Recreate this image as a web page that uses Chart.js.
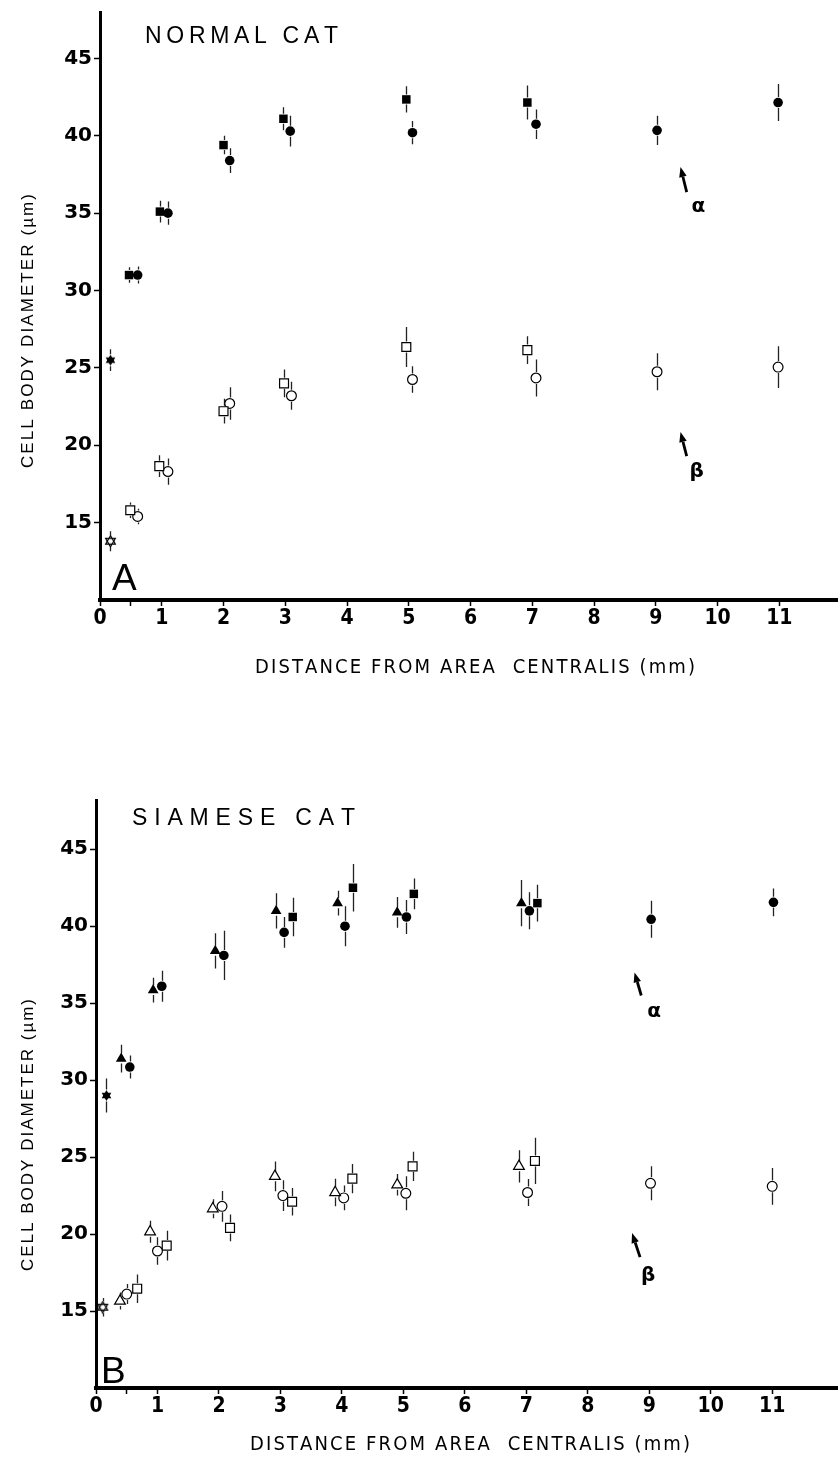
<!DOCTYPE html>
<html><head><meta charset="utf-8">
<script src="https://cdn.jsdelivr.net/npm/chart.js@4.4.1/dist/chart.umd.min.js"></script>
<style>
html,body{margin:0;padding:0;background:#fff;}
#wrap{position:relative;width:838px;height:1472px;overflow:hidden;background:#fff;}
canvas{position:absolute;left:0;}
</style></head><body>
<div id="wrap">
<canvas id="cTop" width="838" height="720" style="top:0"></canvas>
<canvas id="cBot" width="838" height="752" style="top:720px"></canvas>
</div>
<script>
// ---------------- DATA ----------------
const xTickValues = [0, 0.5, 1, 2, 3, 4, 5, 6, 7, 8, 9, 10, 11];
const yTickValues = [15, 20, 25, 30, 35, 40, 45];

// A: NORMAL CAT
const normAlphaSqX   = [0.47, 0.97, 2.0, 2.97, 4.96, 6.92];
const normAlphaSqY   = [31.0, 35.1, 39.4, 41.1, 42.35, 42.15];
const normAlphaSqE   = [0.5, 0.7, 0.6, 0.75, 0.85, 1.1];
const normAlphaCirX  = [0.61, 1.1, 2.1, 3.08, 5.06, 7.06, 9.02, 10.98];
const normAlphaCirY  = [31.0, 35.0, 38.4, 40.3, 40.2, 40.75, 40.35, 42.15];
const normAlphaCirE  = [0.55, 0.75, 0.8, 1.0, 0.75, 0.95, 0.95, 1.2];
const normAlphaAllX  = [0.17];
const normAlphaAllY  = [25.5];
const normAlphaAllE  = [0.7];
const normBetaSqX    = [0.49, 0.96, 2.0, 2.98, 4.96, 6.92];
const normBetaSqY    = [15.8, 18.65, 22.2, 24.0, 26.35, 26.15];
const normBetaSqE    = [0.5, 0.7, 0.8, 0.9, 1.3, 0.9];
const normBetaCirX   = [0.61, 1.1, 2.1, 3.1, 5.06, 7.06, 9.02, 10.98];
const normBetaCirY   = [15.4, 18.3, 22.7, 23.2, 24.25, 24.35, 24.75, 25.05];
const normBetaCirE   = [0.5, 0.85, 1.05, 0.9, 0.85, 1.2, 1.2, 1.35];
const normBetaAllX   = [0.17];
const normBetaAllY   = [13.8];
const normBetaAllE   = [0.65];

// B: SIAMESE CAT
const siamAlphaTriX  = [0.41, 0.93, 1.94, 2.93, 3.93, 4.9, 6.92];
const siamAlphaTriY  = [31.4, 35.85, 38.4, 41.0, 41.5, 40.9, 41.5];
const siamAlphaTriE  = [0.9, 0.8, 1.15, 1.15, 0.8, 1.0, 1.5];
const siamAlphaCirX  = [0.55, 1.07, 2.08, 3.06, 4.05, 5.05, 7.05, 9.03, 11.02];
const siamAlphaCirY  = [30.85, 36.1, 38.1, 39.6, 40.0, 40.6, 41.0, 40.45, 41.55];
const siamAlphaCirE  = [0.75, 1.0, 1.6, 1.0, 1.3, 1.1, 1.2, 1.2, 0.9];
const siamAlphaSqX   = [3.2, 4.18, 5.17, 7.18];
const siamAlphaSqY   = [40.6, 42.5, 42.1, 41.5];
const siamAlphaSqE   = [1.25, 1.55, 1.0, 1.2];
const siamAlphaAllX  = [0.17];
const siamAlphaAllY  = [29.0];
const siamAlphaAllE  = [1.1];
const siamBetaTriX   = [0.39, 0.88, 1.9, 2.91, 3.89, 4.9, 6.88];
const siamBetaTriY   = [15.65, 20.15, 21.65, 23.75, 22.7, 23.2, 24.4];
const siamBetaTriE   = [0.55, 0.72, 0.62, 0.97, 0.9, 0.7, 1.05];
const siamBetaCirX   = [0.5, 1.0, 2.05, 3.04, 4.03, 5.04, 7.02, 9.02, 11.0];
const siamBetaCirY   = [16.1, 18.9, 21.8, 22.5, 22.35, 22.65, 22.7, 23.3, 23.1];
const siamBetaCirE   = [0.65, 0.9, 1.0, 1.0, 0.8, 1.1, 0.87, 1.1, 1.2];
const siamBetaSqX    = [0.67, 1.15, 2.18, 3.19, 4.17, 5.15, 7.14];
const siamBetaSqY    = [16.45, 19.25, 20.4, 22.1, 23.6, 24.4, 24.75];
const siamBetaSqE    = [0.92, 0.97, 0.87, 0.9, 0.95, 0.95, 1.5];
const siamBetaAllX   = [0.11];
const siamBetaAllY   = [15.25];
const siamBetaAllE   = [0.6];

// ---------------- STYLE HELPERS ----------------
const SANS = '"Liberation Sans", Arial, sans-serif';
const NARROW = '"Liberation Sans Narrow", "DejaVu Sans Condensed", "Liberation Sans", sans-serif';

function hexagram(filled) {
  const c = document.createElement('canvas');
  c.width = 13; c.height = 13;
  const g = c.getContext('2d');
  const cx = 6.5, cy = 6.5, r = 5.6;
  g.fillStyle = '#000'; g.strokeStyle = '#000'; g.lineWidth = 1.2;
  for (const rot of [0, Math.PI]) {
    g.beginPath();
    for (let k = 0; k < 3; k++) {
      const a = rot - Math.PI / 2 + k * 2 * Math.PI / 3;
      const px = cx + r * Math.cos(a), py = cy + r * Math.sin(a);
      k ? g.lineTo(px, py) : g.moveTo(px, py);
    }
    g.closePath();
    filled ? g.fill() : g.stroke();
  }
  return c;
}
const starFilled = hexagram(true);
const starOpen = hexagram(false);

const styles = {
  fsq:  { pointStyle: 'rect', pointRadius: 6, backgroundColor: '#000', borderColor: '#000', borderWidth: 0, gap: 5 },
  fcir: { pointStyle: 'circle', pointRadius: 4.8, backgroundColor: '#000', borderColor: '#000', borderWidth: 0, gap: 5.5 },
  ftri: { pointStyle: 'triangle', pointRadius: 6.2, backgroundColor: '#000', borderColor: '#000', borderWidth: 0, gap: 5 },
  fstar:{ pointStyle: starFilled, pointRadius: 6, backgroundColor: '#000', borderColor: '#000', borderWidth: 0, gap: 6 },
  osq:  { pointStyle: 'rect', pointRadius: 6.3, backgroundColor: '#fff', borderColor: '#000', borderWidth: 1.2, gap: 5.5 },
  ocir: { pointStyle: 'circle', pointRadius: 4.9, backgroundColor: '#fff', borderColor: '#000', borderWidth: 1.2, gap: 6 },
  otri: { pointStyle: 'triangle', pointRadius: 6.2, backgroundColor: '#fff', borderColor: '#000', borderWidth: 1.2, gap: 5 },
  ostar:{ pointStyle: starOpen, pointRadius: 6, backgroundColor: '#fff', borderColor: '#000', borderWidth: 0, gap: 6 }
};

function series(xs, ys, es, st) {
  const s = styles[st];
  return Object.assign({
    data: xs.map((x, i) => ({ x: x, y: ys[i] })),
    errs: es,
    showLine: false,
    clip: false,
    pointHoverRadius: s.pointRadius,
    pointBorderWidth: s.borderWidth,
    pointBackgroundColor: s.backgroundColor,
    pointBorderColor: s.borderColor
  }, s);
}

const errorBarPlugin = {
  id: 'errbars',
  beforeDatasetsDraw(chart) {
    const ctx = chart.ctx, xs = chart.scales.x, ys = chart.scales.y;
    ctx.save();
    ctx.strokeStyle = '#222';
    ctx.lineWidth = 1.3;
    chart.data.datasets.forEach(ds => {
      if (!ds.errs) return;
      ds.data.forEach((p, i) => {
        const e = ds.errs[i];
        const px = Math.round(xs.getPixelForValue(p.x)) + 0.5;
        const py = ys.getPixelForValue(p.y);
        const top = ys.getPixelForValue(p.y + e);
        const bot = ys.getPixelForValue(p.y - e);
        ctx.beginPath();
        if (py - ds.gap > top) { ctx.moveTo(px, top); ctx.lineTo(px, py - ds.gap); }
        if (py + ds.gap < bot) { ctx.moveTo(px, py + ds.gap); ctx.lineTo(px, bot); }
        ctx.stroke();
      });
    });
    ctx.restore();
  }
};

function drawSpaced(ctx, text, x, y, target, anchor) {
  const chars = [...text];
  const widths = chars.map(ch => ctx.measureText(ch).width);
  const w = widths.reduce((a, b) => a + b, 0);
  const sp = Math.max(0, (target - w) / (chars.length - 1));
  let cx = anchor === 'center' ? x - target / 2 : x;
  ctx.textAlign = 'left';
  chars.forEach((ch, i) => { ctx.fillText(ch, cx, y); cx += widths[i] + sp; });
}

function notesPlugin(n) {
  return {
    id: 'notes',
    afterDraw(chart) {
      const ctx = chart.ctx, xs = chart.scales.x, ys = chart.scales.y;
      ctx.save();
      ctx.fillStyle = '#000';
      ctx.font = '400 ' + n.title.size + 'px ' + SANS;
      ctx.textBaseline = 'alphabetic';
      drawSpaced(ctx, n.title.text, n.title.x, n.title.y, n.title.width, 'left');
      ctx.font = '400 ' + n.letter.size + 'px ' + SANS;
      ctx.textAlign = 'left';
      ctx.fillText(n.letter.text, n.letter.x, n.letter.y);
      ctx.font = '400 20px ' + NARROW;
      ctx.textBaseline = 'middle';
      drawSpaced(ctx, n.xTitle.text, n.xTitle.cx, n.xTitle.cy, n.xTitle.length, 'center');
      ctx.save();
      ctx.translate(n.yTitle.cx, n.yTitle.cy);
      ctx.rotate(-Math.PI / 2);
      ctx.font = '400 17px ' + SANS;
      ctx.textBaseline = 'middle';
      drawSpaced(ctx, n.yTitle.text, 0, 0, n.yTitle.length, 'center');
      ctx.restore();
      n.arrows.forEach(a => {
        const x0 = xs.getPixelForValue(a.from[0]), y0 = ys.getPixelForValue(a.from[1]);
        const x1 = xs.getPixelForValue(a.to[0]), y1 = ys.getPixelForValue(a.to[1]);
        const ang = Math.atan2(y1 - y0, x1 - x0);
        const hl = 10, hw = 3.8;
        const bx = x1 - hl * Math.cos(ang), by = y1 - hl * Math.sin(ang);
        ctx.strokeStyle = '#000';
        ctx.lineWidth = 2.8;
        ctx.beginPath(); ctx.moveTo(x0, y0); ctx.lineTo(bx, by); ctx.stroke();
        ctx.beginPath();
        ctx.moveTo(x1, y1);
        ctx.lineTo(bx + hw * Math.sin(ang), by - hw * Math.cos(ang));
        ctx.lineTo(bx - hw * Math.sin(ang), by + hw * Math.cos(ang));
        ctx.closePath(); ctx.fill();
        ctx.font = 'bold 20px "DejaVu Sans", sans-serif';
        ctx.textAlign = 'center'; ctx.textBaseline = 'middle';
        ctx.fillText(a.label, xs.getPixelForValue(a.at[0]), ys.getPixelForValue(a.at[1]));
      });
      ctx.restore();
    }
  };
}

function makeChart(id, cfg) {
  const tickGrid = { display: true, drawOnChartArea: false, drawTicks: true, tickLength: 6, tickWidth: 1.5, tickColor: '#000', color: '#000' };
  return new Chart(document.getElementById(id), {
    type: 'scatter',
    data: { datasets: cfg.datasets },
    options: {
      responsive: false, animation: false, devicePixelRatio: 1,
      events: [],
      layout: { autoPadding: false, padding: { top: cfg.areaTop, left: 0, right: 0, bottom: 0 } },
      plugins: { legend: { display: false }, tooltip: { enabled: false } },
      scales: {
        x: {
          type: 'linear', min: 0, max: cfg.xMax,
          afterFit: s => { s.height = cfg.xAxisH; s.paddingLeft = 0; s.paddingRight = 0; },
          afterBuildTicks: s => { s.ticks = xTickValues.map(v => ({ value: v })); },
          border: { display: true, color: '#000', width: 4 },
          grid: tickGrid,
          ticks: { color: '#000', padding: 0, maxRotation: 0, autoSkip: false,
                   font: { family: NARROW, size: 21, weight: 'bold' },
                   callback: v => Number.isInteger(v) ? String(v) : '' }
        },
        y: {
          type: 'linear', min: 10, max: cfg.yMax,
          afterFit: s => { s.width = cfg.yAxisW; s.paddingTop = 0; s.paddingBottom = 0; },
          afterBuildTicks: s => { s.ticks = yTickValues.map(v => ({ value: v })); },
          border: { display: true, color: '#000', width: 3 },
          grid: tickGrid,
          ticks: { color: '#000', padding: 2, font: { family: '"DejaVu Sans", sans-serif', size: 20, weight: 'bold' },
                   callback: v => String(v) }
        }
      }
    },
    plugins: [errorBarPlugin, notesPlugin(cfg.notes)]
  });
}

const yTitleText = 'CELL BODY DIAMETER (\u00b5m)';
const xTitleText = 'DISTANCE FROM AREA  CENTRALIS (mm)';

makeChart('cTop', {
  areaTop: 12, xAxisH: 120, yAxisW: 100, xMax: 11.95, yMax: 48,
  datasets: [
    series(normBetaSqX, normBetaSqY, normBetaSqE, 'osq'),
    series(normBetaCirX, normBetaCirY, normBetaCirE, 'ocir'),
    series(normBetaAllX, normBetaAllY, normBetaAllE, 'ostar'),
    series(normAlphaSqX, normAlphaSqY, normAlphaSqE, 'fsq'),
    series(normAlphaCirX, normAlphaCirY, normAlphaCirE, 'fcir'),
    series(normAlphaAllX, normAlphaAllY, normAlphaAllE, 'fstar')
  ],
  notes: {
    title: { text: 'NORMAL CAT', x: 145, y: 43, width: 193, size: 23 },
    letter: { text: 'A', x: 112, y: 590, size: 37 },
    xTitle: { text: xTitleText, cx: 475, cy: 668, length: 440 },
    yTitle: { text: yTitleText, cx: 28, cy: 331, length: 274 },
    arrows: [
      { from: [9.50, 36.36], to: [9.40, 37.98], label: '\u03b1', at: [9.69, 35.4] },
      { from: [9.50, 19.3], to: [9.40, 20.85], label: '\u03b2', at: [9.66, 18.3] }
    ]
  }
});

makeChart('cBot', {
  areaTop: 80, xAxisH: 84, yAxisW: 96, xMax: 12.07, yMax: 48.2,
  datasets: [
    series(siamBetaTriX, siamBetaTriY, siamBetaTriE, 'otri'),
    series(siamBetaCirX, siamBetaCirY, siamBetaCirE, 'ocir'),
    series(siamBetaSqX, siamBetaSqY, siamBetaSqE, 'osq'),
    series(siamBetaAllX, siamBetaAllY, siamBetaAllE, 'ostar'),
    series(siamAlphaTriX, siamAlphaTriY, siamAlphaTriE, 'ftri'),
    series(siamAlphaCirX, siamAlphaCirY, siamAlphaCirE, 'fcir'),
    series(siamAlphaSqX, siamAlphaSqY, siamAlphaSqE, 'fsq'),
    series(siamAlphaAllX, siamAlphaAllY, siamAlphaAllE, 'fstar')
  ],
  notes: {
    title: { text: 'SIAMESE CAT', x: 132, y: 105, width: 223, size: 23 },
    letter: { text: 'B', x: 101, y: 663, size: 37 },
    xTitle: { text: xTitleText, cx: 470, cy: 725, length: 440 },
    yTitle: { text: yTitleText, cx: 28, cy: 415, length: 272 },
    arrows: [
      { from: [8.87, 35.5], to: [8.76, 37.0], label: '\u03b1', at: [9.08, 34.45] },
      { from: [8.85, 18.5], to: [8.72, 20.07], label: '\u03b2', at: [8.98, 17.3] }
    ]
  }
});
</script>
</body></html>
